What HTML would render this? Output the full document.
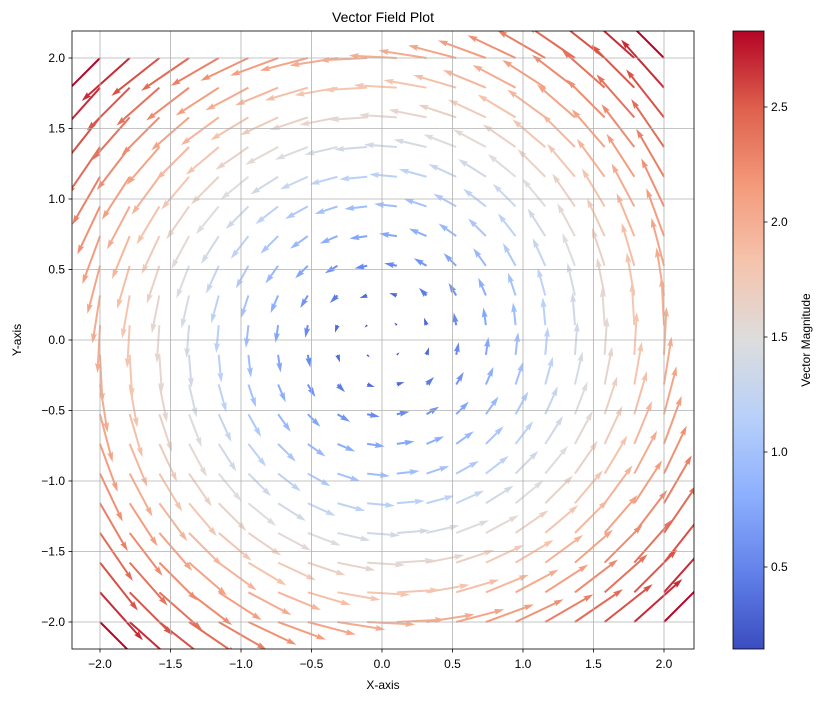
<!DOCTYPE html>
<html><head><meta charset="utf-8"><style>
body{margin:0;background:#fff;}
svg{display:block;font-family:"Liberation Sans",sans-serif;}
</style></head><body>
<svg id="s" width="823" height="701" xmlns="http://www.w3.org/2000/svg">
<defs>
<linearGradient id="cw" x1="0" y1="1" x2="0" y2="0">
<stop offset="0" stop-color="rgb(59,76,192)"/>
<stop offset="0.125" stop-color="rgb(98,130,234)"/>
<stop offset="0.25" stop-color="rgb(141,176,254)"/>
<stop offset="0.375" stop-color="rgb(184,208,249)"/>
<stop offset="0.5" stop-color="rgb(221,221,221)"/>
<stop offset="0.625" stop-color="rgb(245,196,173)"/>
<stop offset="0.75" stop-color="rgb(244,154,123)"/>
<stop offset="0.875" stop-color="rgb(222,96,77)"/>
<stop offset="1" stop-color="rgb(180,4,38)"/>
</linearGradient>
<clipPath id="ax"><rect x="72" y="31" width="622" height="618"/></clipPath>
</defs>
<text x="383" y="22" font-size="14" text-anchor="middle">Vector Field Plot</text>
<g id="arrows" clip-path="url(#ax)"></g>
<g id="grid" stroke="#b0b0b0" stroke-width="0.8" clip-path="url(#ax)"></g>
<rect x="72" y="31" width="622" height="618" fill="none" stroke="#000" stroke-width="0.8"/>
<g id="ticks" font-size="12"></g>
<text x="383" y="689" font-size="12" text-anchor="middle">X-axis</text>
<text transform="translate(21,340) rotate(-90)" font-size="12" text-anchor="middle">Y-axis</text>
<rect x="733" y="31" width="31" height="618" fill="url(#cw)" stroke="#000" stroke-width="0.8"/>
<g id="cb" font-size="12"></g>
<text transform="translate(810,340) rotate(-90)" font-size="12" text-anchor="middle">Vector Magnitude</text>
</svg>
<script>
var NS="http://www.w3.org/2000/svg";
function el(p,t,a,txt){var e=document.createElementNS(NS,t);for(var k in a)e.setAttribute(k,a[k]);if(txt!=null)e.textContent=txt;p.appendChild(e);return e;}
var X=function(v){return 382+v*141;},Y=function(v){return 340-v*141;};
var grid=document.getElementById('grid'),ticks=document.getElementById('ticks');
for(var i=-4;i<=4;i++){var v=i/2,lab=(v<0?"\u2212":"")+Math.abs(v).toFixed(1);
 el(grid,'line',{x1:X(v),x2:X(v),y1:31,y2:649});el(grid,'line',{y1:Y(v),y2:Y(v),x1:72,x2:694});
 el(ticks,'line',{x1:X(v),x2:X(v),y1:649,y2:652.5,stroke:'#000','stroke-width':0.8});
 el(ticks,'line',{y1:Y(v),y2:Y(v),x1:68.5,x2:72,stroke:'#000','stroke-width':0.8});
 el(ticks,'text',{x:X(v),y:668,'text-anchor':'middle'},lab);
 el(ticks,'text',{x:65,y:Y(v)+4,'text-anchor':'end'},lab);}
var cb=document.getElementById('cb');
[0.5,1.0,1.5,2.0,2.5].forEach(function(v){var y=567-(v-0.5)*230;
 el(cb,'line',{x1:764,x2:767.5,y1:y,y2:y,stroke:'#000','stroke-width':0.8});
 el(cb,'text',{x:771,y:y+4},v.toFixed(1));});
var stops=[[59,76,192],[98,130,234],[141,176,254],[184,208,249],[221,221,221],[245,196,173],[244,154,123],[222,96,77],[180,4,38]];
function cmap(t){t=Math.max(0,Math.min(1,t))*8;var i=Math.min(7,Math.floor(t)),f=t-i,a=stops[i],b=stops[i+1];
 return 'rgb('+[0,1,2].map(function(k){return Math.round(a[k]+(b[k]-a[k])*f);}).join(',')+')';}
var g=document.getElementById('arrows');var N=20,mn=0.1489,mx=2.8284,S=24,w=2.0;
var hl=5*w,hal=4.5*w,hw=1.5*w;
for(var i=0;i<N;i++)for(var j=0;j<N;j++){
 var x=-2+4*i/(N-1),y=-2+4*j/(N-1),u=-y,vv=x,m=Math.sqrt(u*u+vv*vv);
 var L=m*S,px=X(x),py=Y(y),ang=Math.atan2(-vv,u)*180/Math.PI;
 var pts;
 if(L>=hl){pts=[[0,-w/2],[L-hal,-w/2],[L-hl,-hw],[L,0],[L-hl,hw],[L-hal,w/2],[0,w/2]];}
 else{var s=L/hl;pts=[[0,-w/2],[hl-hal,-w/2],[0,-hw],[hl,0],[0,hw],[hl-hal,w/2],[0,w/2]].map(function(p){return [p[0]*s,p[1]*s];});}
 el(g,'polygon',{points:pts.map(function(p){return p[0].toFixed(2)+','+p[1].toFixed(2);}).join(' '),
  fill:cmap((m-mn)/(mx-mn)),transform:'translate('+px+','+py+') rotate('+ang+')'});}
</script>
</body></html>
